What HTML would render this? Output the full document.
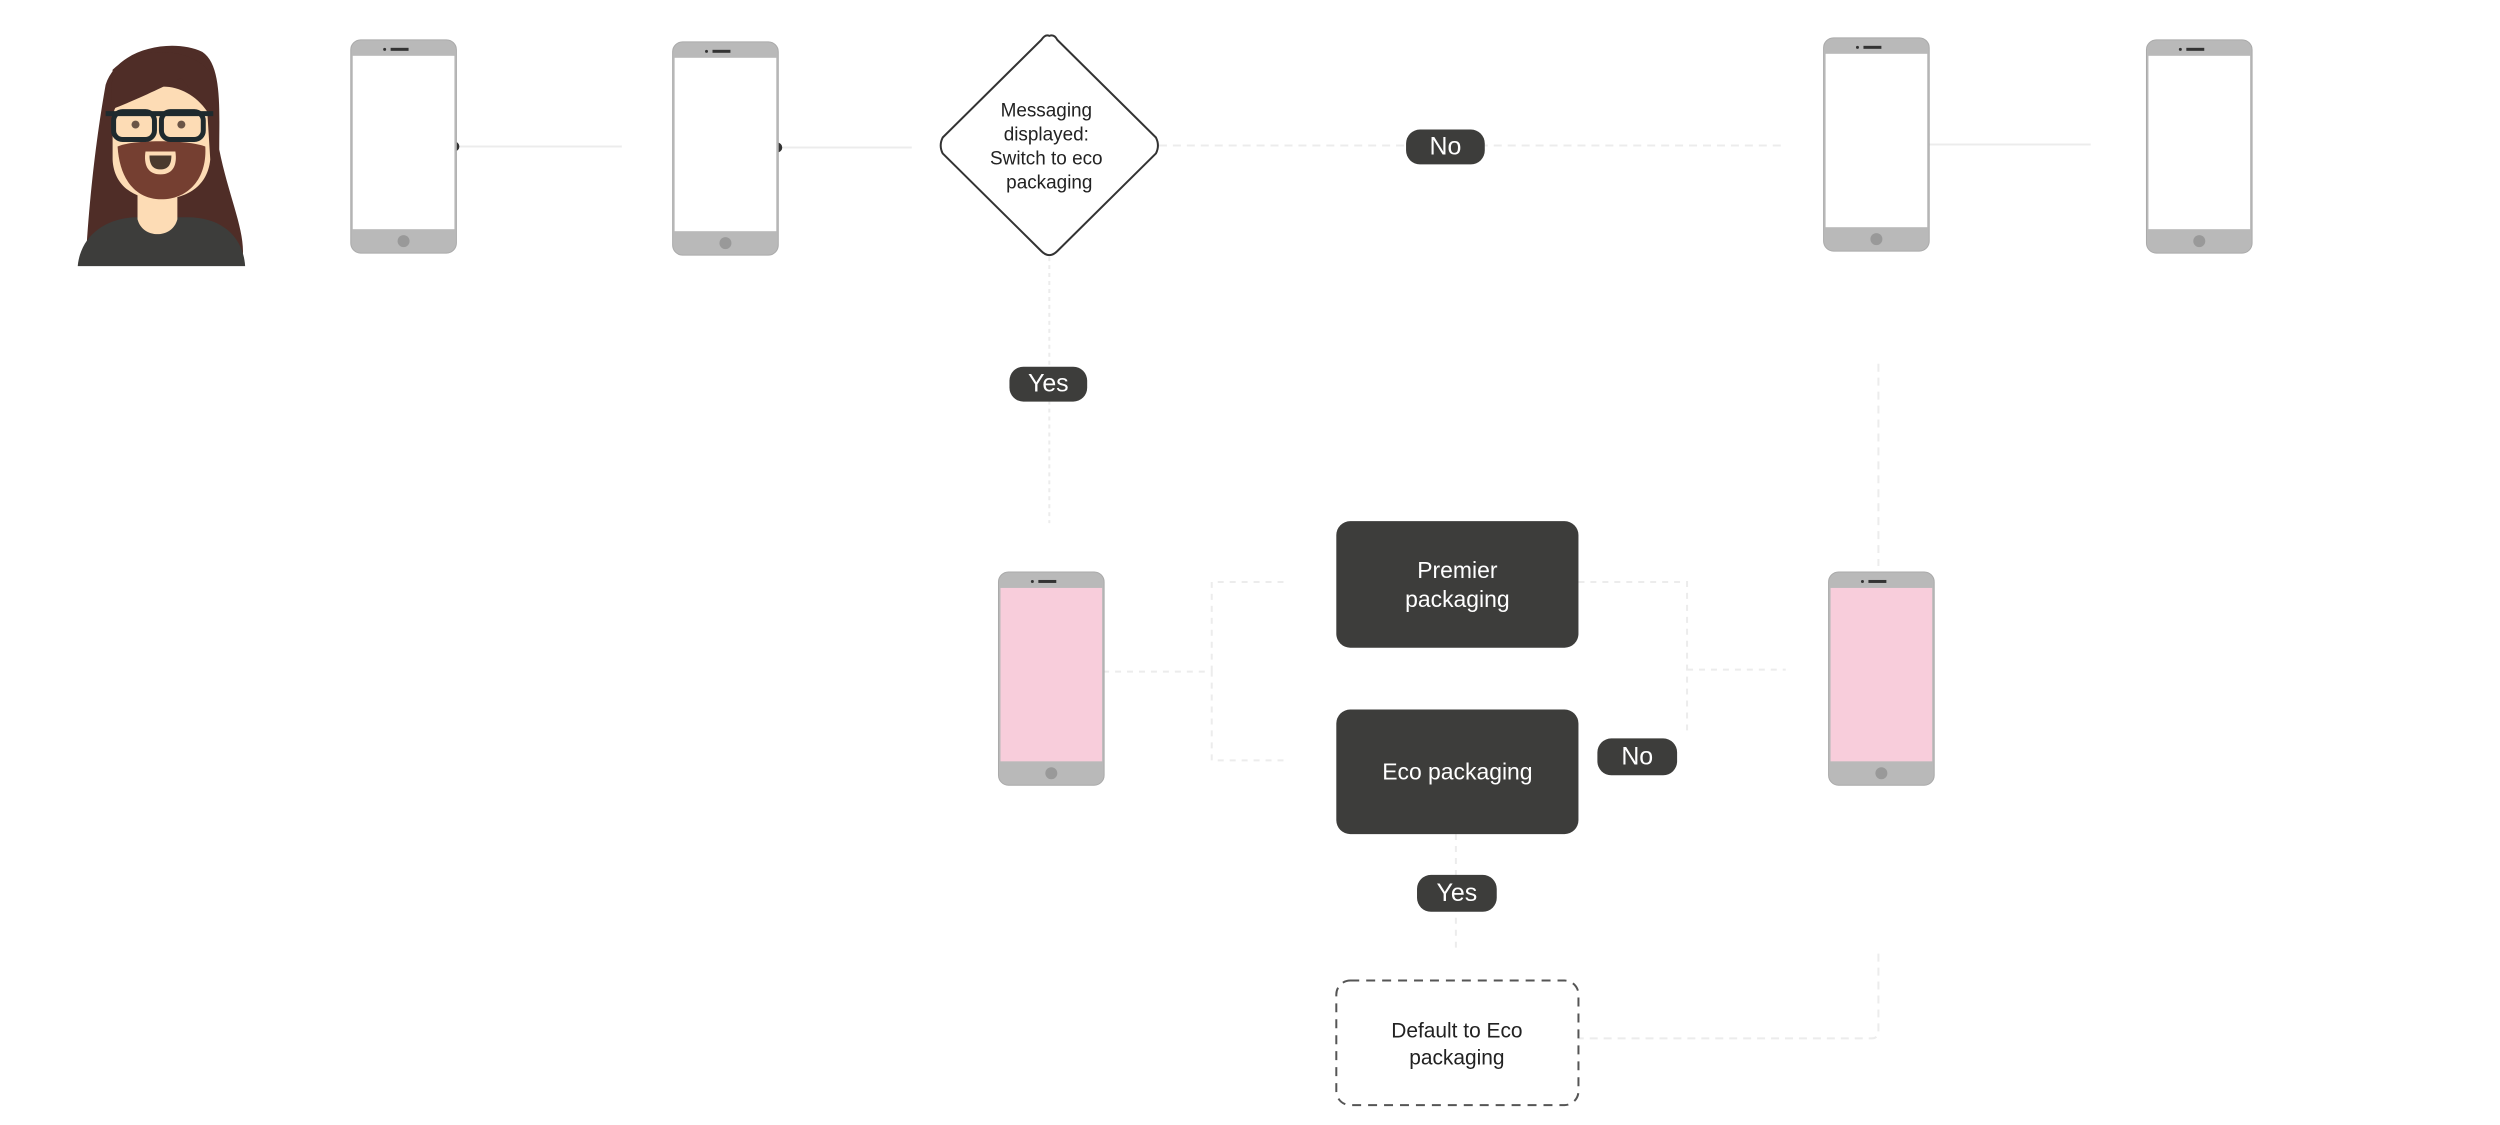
<!DOCTYPE html>
<html><head><meta charset="utf-8"><style>
html,body{margin:0;padding:0;background:#fff;}
body{width:2500px;height:1125px;position:relative;overflow:hidden;font-family:"Liberation Sans",sans-serif;}
#wrap{position:absolute;left:0;top:0;width:2500px;height:1125px;transform:scale(0.9965);transform-origin:0 0;}
.abs{position:absolute;}
.pill{position:absolute;background:#3d3d3b;color:#fff;border-radius:14px;display:flex;align-items:center;justify-content:center;font-size:25px;}
.box{position:absolute;background:#3d3d3b;color:#fff;border-radius:14px;display:flex;align-items:center;justify-content:center;text-align:center;font-size:23px;line-height:29px;}
</style></head><body><div id="wrap">
<svg class="abs" style="left:0;top:0" width="2500" height="1125">
<g stroke="#ececec" stroke-width="2" fill="none">
<line x1="458" y1="147" x2="624" y2="147"/>
<line x1="781" y1="148" x2="915" y2="148"/>
<line x1="1163" y1="146" x2="1789" y2="146" stroke-dasharray="8 6"/>
<line x1="1936" y1="145" x2="2098" y2="145"/>
<line x1="1053" y1="258" x2="1053" y2="525" stroke-dasharray="4 4"/>
<line x1="1885" y1="365" x2="1885" y2="568" stroke-dasharray="8 6"/>
<path d="M1107 674 H1216 V763 H1290 M1216 674 V584 H1290" stroke-dasharray="6 6"/>
<path d="M1584 584 H1693 V739 M1693 672 H1792" stroke-dasharray="6 6"/>
<line x1="1461" y1="837" x2="1461" y2="957" stroke-dasharray="6 6"/>
<path d="M1885 957 V1035 Q1885 1042 1878 1042 H1584" stroke-dasharray="8 6"/>
</g>
<circle cx="456" cy="147" r="5" fill="#333"/>
<circle cx="780" cy="148" r="5" fill="#333"/>
<path d="M1053 36 Q1058 34 1061 40 L1160 138 Q1164 146 1160 154 L1061 252 Q1053 260 1045 252 L946 154 Q942 146 946 138 L1045 40 Q1049 34 1053 36 Z" fill="#fff" stroke="#333" stroke-width="2"/>
<text font-family="Liberation Sans, sans-serif" font-size="19" fill="#222" text-anchor="middle">
<tspan x="1050" y="117">Messaging</tspan><tspan x="1050" y="141">displayed:</tspan><tspan x="1050" y="165">Switch to eco</tspan><tspan x="1053" y="189">packaging</tspan></text>
<rect x="1341" y="984" width="243" height="125" rx="14" fill="#fff" stroke="#555" stroke-width="2" stroke-dasharray="9 7"/>
<text font-family="Liberation Sans, sans-serif" font-size="21" fill="#222" text-anchor="middle"><tspan x="1462" y="1041">Default to Eco</tspan><tspan x="1462" y="1068">packaging</tspan></text>
<g transform="translate(78,40)">
<path d="M8,222 C12,150 20,90 28,45 C40,8 95,-2 125,12 C145,25 142,70 142,110 C152,160 170,195 165,222 Z" fill="#4f2d27"/>
<path d="M0,227 C3,195 30,178 60,178 L110,178 C145,178 166,198 168,227 Z" fill="#3d3d3b"/>
<path d="M60,140 H100 V180 C95,200 65,200 60,180 Z" fill="#fddcb5"/>
<path d="M35,90 C33,60 45,60 70,50 C90,42 115,50 130,72 L133,120 C130,150 105,160 82,160 C55,160 36,145 35,120 Z" fill="#fddcb5"/>
<path d="M33,70 C60,60 90,45 104,38 C115,55 128,62 135,70 L138,40 C120,5 60,5 35,30 Z" fill="#4f2d27"/>
<path d="M40,107 C55,100 110,100 128,107 C130,140 110,160 84,160 C58,160 42,140 40,107 Z" fill="#753f31"/>
<path d="M68,112 H98 C100,125 96,135 83,135 C70,135 66,125 68,112 Z" fill="#fddcb5"/>
<path d="M72,116 H94 C94,126 90,130 83,130 C76,130 72,126 72,116 Z" fill="#4a3a2e"/>
<rect x="36" y="72" width="41" height="28" rx="9" fill="none" stroke="#1f2a2e" stroke-width="5"/>
<rect x="84" y="72" width="42" height="28" rx="9" fill="none" stroke="#1f2a2e" stroke-width="5"/>
<path d="M28,74 H136" stroke="#1f2a2e" stroke-width="5"/>
<circle cx="58" cy="85" r="4" fill="#6b5546"/><circle cx="104" cy="85" r="4" fill="#6b5546"/>
</g>
<defs>
<g id="ph">
<rect x="0" y="0" width="106" height="214" rx="10" fill="#b9b9b9" stroke="#aaa" stroke-width="1"/>
<rect x="2" y="16" width="102" height="174" fill="var(--s)"/>
<rect x="40" y="8" width="18" height="3" fill="#333"/>
<circle cx="34" cy="9.5" r="1.5" fill="#333"/>
<ellipse cx="53" cy="202" rx="6" ry="6" fill="#999"/>
</g>
</defs>
<use href="#ph" x="352" y="40" style="--s:#fff"/>
<use href="#ph" x="675" y="42" style="--s:#fff"/>
<use href="#ph" x="1830" y="38" style="--s:#fff"/>
<use href="#ph" x="2154" y="40" style="--s:#fff"/>
<use href="#ph" x="1002" y="574" style="--s:#f8cddb"/>
<use href="#ph" x="1835" y="574" style="--s:#f8cddb"/>
</svg>
<div class="pill" style="left:1411px;top:130px;width:79px;height:35px;">No</div>
<div class="pill" style="left:1013px;top:368px;width:78px;height:35px;">Yes</div>
<div class="pill" style="left:1603px;top:741px;width:80px;height:37px;">No</div>
<div class="pill" style="left:1422px;top:878px;width:80px;height:37px;">Yes</div>
<div class="box" style="left:1341px;top:523px;width:243px;height:127px;">Premier<br>packaging</div>
<div class="box" style="left:1341px;top:712px;width:243px;height:125px;">Eco packaging</div>
</div></body></html>
